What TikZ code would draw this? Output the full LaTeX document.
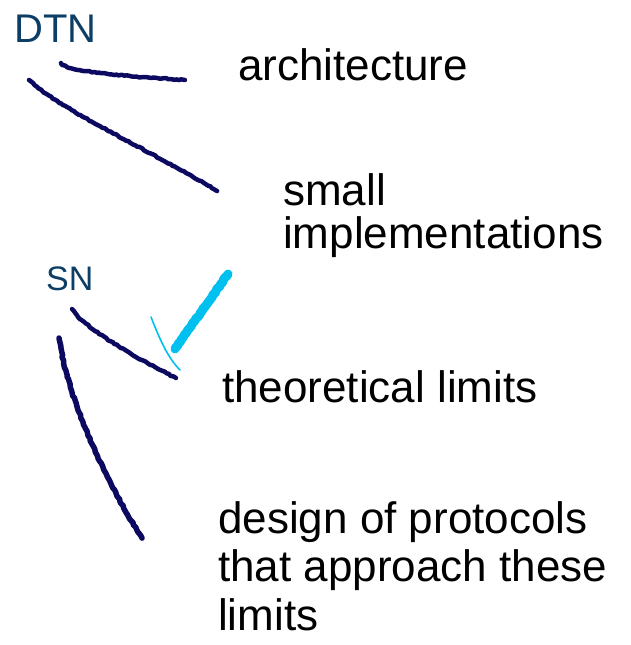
\documentclass[tikz,border=0pt]{standalone}
\usepackage{fontspec}
\setmainfont{Liberation Sans}
\usetikzlibrary{decorations.pathmorphing}
\definecolor{labelblue}{RGB}{12,62,102}
\definecolor{navystroke}{RGB}{12,10,96}
\definecolor{skystroke}{RGB}{0,192,240}
\begin{document}
\begin{tikzpicture}[x=1pt,y=-1pt,
  rough/.style={decorate,decoration={random steps,segment length=2.5pt,amplitude=0.6pt},line cap=round,line join=round},
  navyline/.style={rough,draw=navystroke,line width=4.5pt},
  skythick/.style={rough,draw=skystroke,line width=9pt},
  skythin/.style={draw=skystroke,line width=1.6pt,line cap=round},
  topic/.style={inner sep=0pt,text=labelblue,anchor=base west},
  item/.style={inner sep=0pt,text=black,anchor=base west,align=left}
]
\useasboundingbox (0,0) rectangle (630,645);

% group labels
\node[topic,font=\fontsize{40}{42}\selectfont] (dtn) at (14,42) {DTN};
\node[topic,font=\fontsize{34}{36}\selectfont] (sn) at (46,290) {SN};

% items (multi-line nodes: base is the last line's baseline)
\node[item,font=\fontsize{44}{43}\selectfont] (arch) at (238,80) {architecture};
\node[item,font=\fontsize{44}{43}\selectfont] (impl) at (283,248) {small\\implementations};
\node[item,font=\fontsize{44}{46}\selectfont] (theo) at (222,402) {theoretical limits};
\node[item,font=\fontsize{44}{48.5}\selectfont] (design) at (218,630) {design of protocols\\that approach these\\limits};

% bracket strokes
\coordinate (a1) at (61,63);
\coordinate (a2) at (185,80);
\coordinate (b1) at (29,80);
\coordinate (b2) at (217,191);
\coordinate (c1) at (72,309);
\coordinate (c2) at (176,378);
\coordinate (d1) at (59,338);
\coordinate (d2) at (142,538);
\coordinate (e1) at (228,274);
\coordinate (e2) at (175,349);
\coordinate (f1) at (151,317);
\coordinate (f2) at (180,370);

\draw[navyline] (a1) .. controls (66,71) and (120,76) .. (a2);
\draw[navyline] (b1) .. controls (60,110) and (150,150) .. (b2);
\draw[navyline] (c1) .. controls (82,326) and (130,355) .. (c2);
\draw[navyline,line width=5.5pt] (d1) .. controls (68,400) and (105,480) .. (d2);
\draw[skythick] (e1) -- (e2);
\draw[skythin] (f1) .. controls (160,340) and (168,358) .. (f2);
\end{tikzpicture}
\end{document}
